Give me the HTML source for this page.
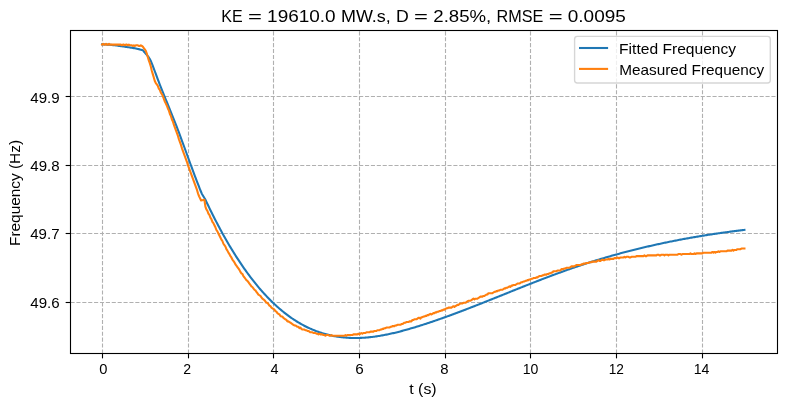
<!DOCTYPE html>
<html lang="en">
<head>
<meta charset="utf-8">
<title>Frequency fit</title>
<style>
html,body{margin:0;padding:0;background:#fff;}
body{width:790px;height:406px;overflow:hidden;}
svg{display:block;will-change:transform;}
text{font-family:"Liberation Sans",sans-serif;fill:#000;}
.tick{font-size:14.1px;}
.lab{font-size:14.2px;}
.ttl{font-size:17.0px;}
.grid line{stroke:#b0b0b0;stroke-width:1.11;stroke-dasharray:4.11 1.78;}
.ticks line{stroke:#000;stroke-width:1.11;}
.curve{fill:none;stroke-width:2.083;stroke-linejoin:round;stroke-linecap:square;}
</style>
</head>
<body>
<svg width="790" height="406" viewBox="0 0 790 406">
<rect x="0" y="0" width="790" height="406" fill="#fff"/>
<g class="grid">
<line x1="102.5" y1="353.5" x2="102.5" y2="30.5"/>
<line x1="188.5" y1="353.5" x2="188.5" y2="30.5"/>
<line x1="273.5" y1="353.5" x2="273.5" y2="30.5"/>
<line x1="359.5" y1="353.5" x2="359.5" y2="30.5"/>
<line x1="445.5" y1="353.5" x2="445.5" y2="30.5"/>
<line x1="530.5" y1="353.5" x2="530.5" y2="30.5"/>
<line x1="616.5" y1="353.5" x2="616.5" y2="30.5"/>
<line x1="702.5" y1="353.5" x2="702.5" y2="30.5"/>
<line x1="70.5" y1="96.5" x2="777.5" y2="96.5"/>
<line x1="70.5" y1="165.5" x2="777.5" y2="165.5"/>
<line x1="70.5" y1="233.5" x2="777.5" y2="233.5"/>
<line x1="70.5" y1="302.5" x2="777.5" y2="302.5"/>
</g>
<path class="curve" stroke="#1f77b4" d="M102.08 44.30 L103.07 44.34 L104.07 44.40 L105.06 44.45 L106.05 44.52 L107.05 44.59 L108.04 44.66 L109.03 44.74 L110.03 44.82 L111.02 44.91 L112.01 45.00 L113.00 45.10 L114.00 45.21 L114.99 45.32 L115.98 45.45 L116.98 45.58 L117.97 45.72 L118.96 45.86 L119.96 46.01 L120.95 46.16 L121.94 46.30 L122.94 46.45 L123.93 46.59 L124.92 46.73 L125.92 46.87 L126.91 47.01 L127.90 47.16 L128.90 47.30 L129.89 47.45 L130.88 47.60 L131.88 47.76 L132.87 47.93 L133.86 48.10 L134.85 48.28 L135.85 48.47 L136.84 48.67 L137.83 48.90 L138.83 49.13 L139.82 49.39 L140.81 49.65 L141.81 49.92 L142.80 50.20 L143.80 51.48 L144.80 52.63 L145.80 53.73 L146.80 54.85 L147.80 56.07 L148.80 57.46 L149.80 59.09 L150.80 61.04 L151.80 63.34 L152.80 65.89 L153.80 68.56 L154.80 71.25 L155.80 73.95 L156.80 76.63 L157.80 79.29 L158.80 81.92 L159.80 84.51 L160.80 87.07 L161.80 89.61 L162.80 92.12 L163.80 94.61 L164.80 97.08 L165.80 99.54 L166.80 101.99 L167.80 104.44 L168.80 106.89 L169.80 109.35 L170.80 111.81 L171.80 114.28 L172.80 116.77 L173.80 119.28 L174.80 121.81 L175.80 124.37 L176.80 126.96 L177.80 129.58 L178.80 132.23 L179.80 134.90 L180.80 137.59 L181.80 140.30 L182.80 143.02 L183.80 145.75 L184.80 148.50 L185.80 151.25 L186.80 154.00 L187.80 156.75 L188.80 159.50 L189.80 162.25 L190.80 164.99 L191.80 167.71 L192.80 170.42 L193.80 173.12 L194.80 175.79 L195.80 178.44 L196.80 181.07 L197.80 183.66 L198.80 186.23 L199.80 188.76 L200.80 191.25 L201.80 193.70 L205.20 199.20 L206.20 201.34 L207.20 203.45 L208.20 205.55 L209.20 207.63 L210.20 209.68 L211.20 211.72 L212.20 213.74 L213.20 215.74 L214.20 217.72 L215.20 219.68 L216.21 221.62 L217.21 223.55 L218.21 225.45 L219.21 227.34 L220.21 229.20 L221.21 231.05 L222.21 232.88 L223.21 234.69 L224.21 236.48 L225.21 238.26 L226.21 240.01 L227.21 241.75 L228.21 243.47 L229.21 245.17 L230.21 246.85 L231.21 248.52 L232.21 250.16 L233.21 251.79 L234.21 253.40 L235.21 254.99 L236.21 256.57 L237.21 258.13 L238.22 259.66 L239.22 261.19 L240.22 262.69 L241.22 264.18 L242.22 265.65 L243.22 267.10 L244.22 268.54 L245.22 269.95 L246.22 271.36 L247.22 272.74 L248.22 274.11 L249.22 275.46 L250.22 276.79 L251.22 278.11 L252.22 279.41 L253.22 280.69 L254.22 281.96 L255.22 283.21 L256.22 284.44 L257.22 285.66 L258.22 286.86 L259.23 288.05 L260.23 289.21 L261.23 290.37 L262.23 291.50 L263.23 292.63 L264.23 293.73 L265.23 294.82 L266.23 295.89 L267.23 296.95 L268.23 297.99 L269.23 299.02 L270.23 300.03 L271.23 301.03 L272.23 302.01 L273.23 302.97 L274.23 303.92 L275.23 304.86 L276.23 305.78 L277.23 306.68 L278.23 307.57 L279.23 308.45 L280.23 309.31 L281.24 310.15 L282.24 310.98 L283.24 311.80 L284.24 312.60 L285.24 313.39 L286.24 314.16 L287.24 314.92 L288.24 315.66 L289.24 316.39 L290.24 317.11 L291.24 317.81 L292.24 318.50 L293.24 319.17 L294.24 319.84 L295.24 320.48 L296.24 321.12 L297.24 321.74 L298.24 322.34 L299.24 322.94 L300.24 323.52 L301.24 324.09 L302.24 324.64 L303.25 325.18 L304.25 325.71 L305.25 326.23 L306.25 326.73 L307.25 327.22 L308.25 327.70 L309.25 328.17 L310.25 328.62 L311.25 329.06 L312.25 329.50 L313.25 329.91 L314.25 330.32 L315.25 330.72 L316.25 331.10 L317.25 331.47 L318.25 331.83 L319.25 332.18 L320.25 332.52 L321.25 332.85 L322.25 333.16 L323.25 333.47 L324.26 333.76 L325.26 334.04 L326.26 334.31 L327.26 334.58 L328.26 334.83 L329.26 335.07 L330.26 335.30 L331.26 335.52 L332.26 335.73 L333.26 335.93 L334.26 336.12 L335.26 336.30 L336.26 336.47 L337.26 336.63 L338.26 336.78 L339.26 336.93 L340.26 337.06 L341.26 337.18 L342.26 337.30 L343.26 337.40 L344.26 337.50 L345.26 337.58 L346.27 337.66 L347.27 337.73 L348.27 337.79 L349.27 337.85 L350.27 337.89 L351.27 337.92 L352.27 337.95 L353.27 337.97 L354.27 337.98 L355.27 337.99 L356.27 337.98 L357.27 337.97 L358.27 337.95 L359.27 337.92 L360.27 337.89 L361.27 337.84 L362.27 337.79 L363.27 337.74 L364.27 337.67 L365.27 337.60 L366.27 337.52 L367.28 337.44 L368.28 337.34 L369.28 337.25 L370.28 337.14 L371.28 337.03 L372.28 336.91 L373.28 336.79 L374.28 336.66 L375.28 336.52 L376.28 336.38 L377.28 336.23 L378.28 336.07 L379.28 335.91 L380.28 335.75 L381.28 335.58 L382.28 335.40 L383.28 335.22 L384.28 335.03 L385.28 334.84 L386.28 334.64 L387.28 334.44 L388.28 334.23 L389.29 334.02 L390.29 333.80 L391.29 333.58 L392.29 333.35 L393.29 333.12 L394.29 332.89 L395.29 332.65 L396.29 332.41 L397.29 332.16 L398.29 331.91 L399.29 331.65 L400.29 331.40 L401.29 331.13 L402.29 330.87 L403.29 330.60 L404.29 330.33 L405.29 330.05 L406.29 329.77 L407.29 329.49 L408.29 329.20 L409.29 328.91 L410.30 328.62 L411.30 328.33 L412.30 328.03 L413.30 327.73 L414.30 327.43 L415.30 327.13 L416.30 326.82 L417.30 326.51 L418.30 326.20 L419.30 325.89 L420.30 325.58 L421.30 325.26 L422.30 324.94 L423.30 324.62 L424.30 324.30 L425.30 323.97 L426.30 323.64 L427.30 323.32 L428.30 322.99 L429.30 322.65 L430.30 322.32 L431.30 321.98 L432.31 321.65 L433.31 321.31 L434.31 320.96 L435.31 320.62 L436.31 320.28 L437.31 319.93 L438.31 319.58 L439.31 319.23 L440.31 318.88 L441.31 318.53 L442.31 318.18 L443.31 317.82 L444.31 317.46 L445.31 317.10 L446.31 316.74 L447.31 316.38 L448.31 316.02 L449.31 315.65 L450.31 315.29 L451.31 314.92 L452.31 314.55 L453.32 314.18 L454.32 313.81 L455.32 313.44 L456.32 313.07 L457.32 312.69 L458.32 312.32 L459.32 311.94 L460.32 311.56 L461.32 311.18 L462.32 310.80 L463.32 310.42 L464.32 310.04 L465.32 309.66 L466.32 309.27 L467.32 308.89 L468.32 308.50 L469.32 308.11 L470.32 307.73 L471.32 307.34 L472.32 306.95 L473.32 306.56 L474.32 306.17 L475.33 305.78 L476.33 305.38 L477.33 304.99 L478.33 304.60 L479.33 304.20 L480.33 303.81 L481.33 303.41 L482.33 303.02 L483.33 302.62 L484.33 302.22 L485.33 301.83 L486.33 301.43 L487.33 301.03 L488.33 300.63 L489.33 300.23 L490.33 299.83 L491.33 299.43 L492.33 299.03 L493.33 298.63 L494.33 298.23 L495.33 297.83 L496.33 297.43 L497.34 297.03 L498.34 296.62 L499.34 296.22 L500.34 295.82 L501.34 295.42 L502.34 295.02 L503.34 294.61 L504.34 294.21 L505.34 293.81 L506.34 293.41 L507.34 293.00 L508.34 292.60 L509.34 292.20 L510.34 291.80 L511.34 291.40 L512.34 290.99 L513.34 290.59 L514.34 290.19 L515.34 289.79 L516.34 289.39 L517.34 288.99 L518.35 288.59 L519.35 288.19 L520.35 287.79 L521.35 287.39 L522.35 286.99 L523.35 286.59 L524.35 286.20 L525.35 285.80 L526.35 285.40 L527.35 285.01 L528.35 284.61 L529.35 284.22 L530.35 283.82 L531.35 283.43 L532.35 283.04 L533.35 282.64 L534.35 282.25 L535.35 281.86 L536.35 281.47 L537.35 281.08 L538.35 280.69 L539.35 280.30 L540.36 279.92 L541.36 279.53 L542.36 279.15 L543.36 278.76 L544.36 278.38 L545.36 278.00 L546.36 277.62 L547.36 277.23 L548.36 276.86 L549.36 276.48 L550.36 276.10 L551.36 275.72 L552.36 275.35 L553.36 274.98 L554.36 274.60 L555.36 274.23 L556.36 273.86 L557.36 273.49 L558.36 273.13 L559.36 272.76 L560.36 272.40 L561.37 272.03 L562.37 271.67 L563.37 271.31 L564.37 270.95 L565.37 270.59 L566.37 270.24 L567.37 269.88 L568.37 269.53 L569.37 269.18 L570.37 268.83 L571.37 268.48 L572.37 268.13 L573.37 267.79 L574.37 267.45 L575.37 267.10 L576.37 266.76 L577.37 266.43 L578.37 266.09 L579.37 265.75 L580.37 265.42 L581.37 265.09 L582.37 264.76 L583.38 264.43 L584.38 264.10 L585.38 263.78 L586.38 263.45 L587.38 263.13 L588.38 262.81 L589.38 262.49 L590.38 262.17 L591.38 261.86 L592.38 261.54 L593.38 261.23 L594.38 260.92 L595.38 260.61 L596.38 260.30 L597.38 260.00 L598.38 259.69 L599.38 259.39 L600.38 259.09 L601.38 258.79 L602.38 258.49 L603.38 258.19 L604.39 257.90 L605.39 257.60 L606.39 257.31 L607.39 257.02 L608.39 256.73 L609.39 256.44 L610.39 256.15 L611.39 255.87 L612.39 255.59 L613.39 255.30 L614.39 255.02 L615.39 254.75 L616.39 254.47 L617.39 254.19 L618.39 253.92 L619.39 253.65 L620.39 253.37 L621.39 253.10 L622.39 252.84 L623.39 252.57 L624.39 252.30 L625.39 252.04 L626.40 251.78 L627.40 251.51 L628.40 251.26 L629.40 251.00 L630.40 250.74 L631.40 250.48 L632.40 250.23 L633.40 249.98 L634.40 249.73 L635.40 249.48 L636.40 249.23 L637.40 248.98 L638.40 248.74 L639.40 248.49 L640.40 248.25 L641.40 248.01 L642.40 247.77 L643.40 247.53 L644.40 247.29 L645.40 247.06 L646.40 246.82 L647.41 246.59 L648.41 246.36 L649.41 246.13 L650.41 245.90 L651.41 245.67 L652.41 245.44 L653.41 245.22 L654.41 245.00 L655.41 244.77 L656.41 244.55 L657.41 244.33 L658.41 244.12 L659.41 243.90 L660.41 243.68 L661.41 243.47 L662.41 243.26 L663.41 243.04 L664.41 242.83 L665.41 242.63 L666.41 242.42 L667.41 242.21 L668.41 242.01 L669.42 241.80 L670.42 241.60 L671.42 241.40 L672.42 241.20 L673.42 241.00 L674.42 240.80 L675.42 240.61 L676.42 240.41 L677.42 240.22 L678.42 240.03 L679.42 239.83 L680.42 239.64 L681.42 239.46 L682.42 239.27 L683.42 239.08 L684.42 238.90 L685.42 238.71 L686.42 238.53 L687.42 238.35 L688.42 238.17 L689.42 237.99 L690.42 237.81 L691.43 237.64 L692.43 237.46 L693.43 237.29 L694.43 237.11 L695.43 236.94 L696.43 236.77 L697.43 236.60 L698.43 236.43 L699.43 236.27 L700.43 236.10 L701.43 235.94 L702.43 235.77 L703.43 235.61 L704.43 235.45 L705.43 235.29 L706.43 235.13 L707.43 234.97 L708.43 234.82 L709.43 234.66 L710.43 234.51 L711.43 234.35 L712.44 234.20 L713.44 234.05 L714.44 233.90 L715.44 233.75 L716.44 233.60 L717.44 233.46 L718.44 233.31 L719.44 233.17 L720.44 233.02 L721.44 232.88 L722.44 232.74 L723.44 232.60 L724.44 232.46 L725.44 232.32 L726.44 232.18 L727.44 232.05 L728.44 231.91 L729.44 231.78 L730.44 231.65 L731.44 231.52 L732.44 231.39 L733.44 231.26 L734.45 231.13 L735.45 231.00 L736.45 230.87 L737.45 230.75 L738.45 230.62 L739.45 230.50 L740.45 230.38 L741.45 230.26 L742.45 230.14 L743.45 230.02 L744.45 229.90"/>
<path class="curve" stroke="#ff7f0e" d="M102.08 44.60 L103.07 43.91 L104.07 44.60 L105.06 44.60 L106.05 43.91 L107.05 44.60 L108.04 44.60 L109.03 43.91 L110.02 44.60 L111.02 44.60 L112.01 44.60 L113.00 44.60 L114.00 44.60 L114.99 44.60 L115.98 44.60 L116.98 44.60 L117.97 44.60 L118.96 44.60 L119.95 44.60 L120.95 44.60 L121.94 45.28 L122.93 44.60 L123.93 44.60 L124.92 45.28 L125.91 44.60 L126.91 44.60 L127.90 45.28 L128.89 44.60 L129.88 45.28 L130.88 45.28 L131.87 45.28 L132.86 45.97 L133.86 45.28 L134.85 45.97 L135.84 45.28 L136.84 45.28 L137.83 45.28 L138.82 45.97 L139.81 45.97 L140.81 45.28 L141.80 45.97 L142.80 46.66 L143.80 48.03 L144.80 49.40 L145.80 50.78 L146.80 53.52 L147.80 56.96 L148.80 60.39 L149.80 63.14 L150.80 66.57 L151.80 70.69 L152.80 74.13 L153.80 77.56 L154.80 80.99 L155.81 83.05 L156.81 84.43 L157.82 85.80 L158.83 88.55 L159.83 89.92 L160.84 92.67 L161.85 94.04 L162.85 96.10 L163.86 98.85 L164.87 101.59 L165.87 103.65 L166.88 105.71 L167.88 108.46 L168.89 110.52 L169.90 113.95 L170.90 116.01 L171.91 119.45 L172.92 121.51 L173.92 124.94 L174.93 127.69 L175.94 130.44 L176.94 133.18 L177.95 135.93 L178.96 139.36 L179.96 142.11 L180.97 144.86 L181.98 148.29 L182.98 151.04 L183.99 153.78 L185.00 156.53 L186.00 159.28 L187.01 162.02 L188.02 165.46 L189.02 168.20 L190.03 170.95 L191.03 173.70 L192.04 176.44 L193.05 179.19 L194.05 181.94 L195.06 184.68 L196.07 187.43 L197.07 190.18 L198.08 193.61 L199.09 196.36 L200.09 198.42 L201.10 200.48 L204.40 199.79 L205.40 206.66 L206.40 209.41 L207.40 210.78 L208.40 213.53 L209.40 214.90 L210.40 217.65 L211.40 219.02 L212.40 221.77 L213.40 223.14 L214.40 225.20 L215.40 227.26 L216.40 230.01 L217.40 231.38 L218.40 233.44 L219.40 235.50 L220.40 237.56 L221.40 239.62 L222.40 240.99 L223.40 243.74 L224.40 245.11 L225.40 246.49 L226.40 249.23 L227.40 250.61 L228.40 252.67 L229.40 254.04 L230.40 256.10 L231.40 257.47 L232.40 259.53 L233.40 260.91 L234.40 262.28 L235.40 264.34 L236.40 265.71 L237.40 267.09 L238.40 268.46 L239.40 269.84 L240.40 271.90 L241.40 273.27 L242.40 273.96 L243.40 276.02 L244.40 277.39 L245.40 278.76 L246.40 280.14 L247.40 280.82 L248.40 282.20 L249.40 283.57 L250.40 284.94 L251.40 286.32 L252.40 287.00 L253.40 288.38 L254.40 289.75 L255.40 290.44 L256.40 291.81 L257.40 293.18 L258.41 294.56 L259.41 295.24 L260.41 295.93 L261.41 297.30 L262.41 298.68 L263.41 299.36 L264.41 300.05 L265.41 301.42 L266.41 302.80 L267.41 302.80 L268.41 304.17 L269.41 305.54 L270.41 306.23 L271.41 307.60 L272.41 308.29 L273.41 308.98 L274.41 309.66 L275.41 311.04 L276.41 311.72 L277.41 313.10 L278.41 313.78 L279.41 314.47 L280.41 315.84 L281.41 316.53 L282.41 316.53 L283.41 317.90 L284.41 318.59 L285.41 319.28 L286.41 319.96 L287.41 321.34 L288.41 321.34 L289.41 322.02 L290.41 322.71 L291.41 323.40 L292.41 324.08 L293.41 324.77 L294.41 325.46 L295.41 325.46 L296.41 326.14 L297.41 326.83 L298.41 326.83 L299.41 328.20 L300.41 327.52 L301.41 328.89 L302.41 329.58 L303.41 329.58 L304.41 329.58 L305.41 330.26 L306.41 330.26 L307.41 330.95 L308.41 330.95 L309.41 331.64 L310.41 332.32 L311.41 332.32 L312.41 332.32 L313.41 333.01 L314.41 333.01 L315.41 333.01 L316.41 333.70 L317.41 333.70 L318.41 334.38 L319.41 333.70 L320.41 334.38 L321.41 334.38 L322.41 334.38 L323.41 335.07 L324.41 335.07 L325.41 335.76 L326.41 335.07 L327.41 335.07 L328.41 335.07 L329.41 335.76 L330.41 335.76 L331.41 335.07 L332.41 335.76 L333.41 335.76 L334.41 335.76 L335.41 335.76 L336.41 335.76 L337.41 335.76 L338.41 335.76 L339.41 335.76 L340.41 335.76 L341.41 335.76 L342.41 335.76 L343.41 335.76 L344.41 335.76 L345.41 335.07 L346.41 335.76 L347.41 335.07 L348.41 335.07 L349.41 335.07 L350.41 335.07 L351.41 335.07 L352.41 335.07 L353.41 334.38 L354.41 334.38 L355.41 334.38 L356.41 334.38 L357.41 334.38 L358.41 333.70 L359.41 334.38 L360.41 333.70 L361.41 333.01 L362.41 333.70 L363.41 333.01 L364.41 333.01 L365.41 333.01 L366.42 332.32 L367.42 332.32 L368.42 332.32 L369.42 332.32 L370.42 331.64 L371.42 331.64 L372.42 331.64 L373.42 331.64 L374.42 330.95 L375.42 330.95 L376.42 330.95 L377.42 330.26 L378.42 330.26 L379.42 330.26 L380.42 329.58 L381.42 329.58 L382.42 328.89 L383.42 328.89 L384.42 328.20 L385.42 328.20 L386.42 327.52 L387.42 327.52 L388.42 327.52 L389.42 327.52 L390.42 326.83 L391.42 326.83 L392.42 326.14 L393.42 326.14 L394.42 326.14 L395.42 325.46 L396.42 325.46 L397.42 324.77 L398.42 324.77 L399.42 324.77 L400.42 324.77 L401.42 324.08 L402.42 324.08 L403.42 323.40 L404.42 322.71 L405.42 322.71 L406.42 322.02 L407.42 322.02 L408.42 322.02 L409.42 321.34 L410.42 321.34 L411.42 321.34 L412.42 319.96 L413.42 319.96 L414.42 319.28 L415.42 319.28 L416.42 319.28 L417.42 318.59 L418.42 317.90 L419.42 317.90 L420.42 318.59 L421.42 317.22 L422.42 317.22 L423.42 316.53 L424.42 316.53 L425.42 315.84 L426.42 315.84 L427.42 315.16 L428.42 315.16 L429.42 314.47 L430.42 313.78 L431.42 314.47 L432.42 313.78 L433.42 313.10 L434.42 313.10 L435.42 312.41 L436.42 312.41 L437.42 311.72 L438.42 311.72 L439.42 311.04 L440.42 311.04 L441.42 310.35 L442.42 310.35 L443.42 309.66 L444.42 309.66 L445.42 308.98 L446.42 308.29 L447.42 308.29 L448.42 307.60 L449.42 307.60 L450.42 307.60 L451.42 307.60 L452.42 306.92 L453.42 306.23 L454.42 306.92 L455.42 306.23 L456.42 305.54 L457.42 304.86 L458.42 304.86 L459.42 304.17 L460.42 303.48 L461.42 303.48 L462.42 303.48 L463.42 302.80 L464.42 302.80 L465.42 302.80 L466.42 302.11 L467.42 301.42 L468.42 300.74 L469.42 300.74 L470.42 300.74 L471.42 300.05 L472.42 299.36 L473.42 298.68 L474.43 299.36 L475.43 298.68 L476.43 298.68 L477.43 298.68 L478.43 297.99 L479.43 297.30 L480.43 296.62 L481.43 296.62 L482.43 296.62 L483.43 295.93 L484.43 295.93 L485.43 295.24 L486.43 294.56 L487.43 294.56 L488.43 293.18 L489.43 293.18 L490.43 293.18 L491.43 293.18 L492.43 293.18 L493.43 292.50 L494.43 291.81 L495.43 291.81 L496.43 291.12 L497.43 291.12 L498.43 290.44 L499.43 290.44 L500.43 289.75 L501.43 289.75 L502.43 289.75 L503.43 289.06 L504.43 288.38 L505.43 288.38 L506.43 287.69 L507.43 287.69 L508.43 287.00 L509.43 286.32 L510.43 287.00 L511.43 285.63 L512.43 285.63 L513.43 284.94 L514.43 284.94 L515.43 284.94 L516.43 284.26 L517.43 283.57 L518.43 283.57 L519.43 283.57 L520.43 282.88 L521.43 282.20 L522.43 282.20 L523.43 281.51 L524.43 281.51 L525.43 280.82 L526.43 280.82 L527.43 280.14 L528.43 280.14 L529.43 279.45 L530.43 279.45 L531.43 278.76 L532.43 278.76 L533.43 278.08 L534.43 278.08 L535.43 278.08 L536.43 277.39 L537.43 277.39 L538.43 276.70 L539.43 276.02 L540.43 276.02 L541.43 276.02 L542.43 275.33 L543.43 275.33 L544.43 274.64 L545.43 274.64 L546.43 274.64 L547.43 273.96 L548.43 273.96 L549.43 273.27 L550.43 273.27 L551.43 272.58 L552.43 272.58 L553.43 271.21 L554.43 271.21 L555.43 271.21 L556.43 271.21 L557.43 270.52 L558.43 270.52 L559.43 270.52 L560.43 270.52 L561.43 269.15 L562.43 269.15 L563.43 269.15 L564.43 268.46 L565.43 268.46 L566.43 267.77 L567.43 267.77 L568.43 267.77 L569.43 267.77 L570.43 267.09 L571.43 266.40 L572.43 266.40 L573.43 266.40 L574.43 266.40 L575.43 265.71 L576.43 265.03 L577.43 265.03 L578.43 265.03 L579.43 265.03 L580.43 265.03 L581.43 264.34 L582.44 264.34 L583.44 263.65 L584.44 263.65 L585.44 263.65 L586.44 262.97 L587.44 262.97 L588.44 262.97 L589.44 262.28 L590.44 262.28 L591.44 262.28 L592.44 261.59 L593.44 261.59 L594.44 261.59 L595.44 261.59 L596.44 261.59 L597.44 260.91 L598.44 260.22 L599.44 260.91 L600.44 260.91 L601.44 260.22 L602.44 259.53 L603.44 260.22 L604.44 260.22 L605.44 259.53 L606.44 259.53 L607.44 259.53 L608.44 258.85 L609.44 259.53 L610.44 258.85 L611.44 258.85 L612.44 258.85 L613.44 258.85 L614.44 258.16 L615.44 258.16 L616.44 258.16 L617.44 257.47 L618.44 258.16 L619.44 258.16 L620.44 257.47 L621.44 257.47 L622.44 257.47 L623.44 257.47 L624.44 256.79 L625.44 257.47 L626.44 256.79 L627.44 256.79 L628.44 256.79 L629.44 257.47 L630.44 257.47 L631.44 256.79 L632.44 256.79 L633.44 256.79 L634.44 256.79 L635.44 256.79 L636.44 256.10 L637.44 256.10 L638.44 256.10 L639.44 256.10 L640.44 256.10 L641.44 256.10 L642.44 256.10 L643.44 256.10 L644.44 255.41 L645.44 256.10 L646.44 256.10 L647.44 255.41 L648.44 255.41 L649.44 255.41 L650.44 255.41 L651.44 255.41 L652.44 255.41 L653.44 255.41 L654.44 255.41 L655.44 255.41 L656.44 255.41 L657.44 254.73 L658.44 254.73 L659.44 255.41 L660.44 255.41 L661.44 254.73 L662.44 254.73 L663.44 254.73 L664.44 255.41 L665.44 254.73 L666.44 254.73 L667.44 254.73 L668.44 255.41 L669.44 254.73 L670.44 254.73 L671.44 254.73 L672.44 254.73 L673.44 254.73 L674.44 254.73 L675.44 254.73 L676.44 254.73 L677.44 254.73 L678.44 254.04 L679.44 254.04 L680.44 254.04 L681.44 254.73 L682.44 254.04 L683.44 254.04 L684.44 254.04 L685.44 254.04 L686.44 254.04 L687.44 254.04 L688.44 254.04 L689.44 254.04 L690.45 253.35 L691.45 254.04 L692.45 254.04 L693.45 254.04 L694.45 253.35 L695.45 254.04 L696.45 253.35 L697.45 253.35 L698.45 253.35 L699.45 253.35 L700.45 253.35 L701.45 253.35 L702.45 253.35 L703.45 252.67 L704.45 252.67 L705.45 252.67 L706.45 252.67 L707.45 252.67 L708.45 252.67 L709.45 252.67 L710.45 252.67 L711.45 252.67 L712.45 251.98 L713.45 252.67 L714.45 251.98 L715.45 252.67 L716.45 251.98 L717.45 251.98 L718.45 251.29 L719.45 251.98 L720.45 251.29 L721.45 251.29 L722.45 251.29 L723.45 251.29 L724.45 251.29 L725.45 251.29 L726.45 251.29 L727.45 250.61 L728.45 250.61 L729.45 250.61 L730.45 250.61 L731.45 250.61 L732.45 249.92 L733.45 250.61 L734.45 249.92 L735.45 249.92 L736.45 249.92 L737.45 249.23 L738.45 249.23 L739.45 249.23 L740.45 249.23 L741.45 248.55 L742.45 248.55 L743.45 248.55 L744.45 248.55"/>
<g class="ticks">
<line x1="102.5" y1="353.5" x2="102.5" y2="358.36"/>
<line x1="188.5" y1="353.5" x2="188.5" y2="358.36"/>
<line x1="273.5" y1="353.5" x2="273.5" y2="358.36"/>
<line x1="359.5" y1="353.5" x2="359.5" y2="358.36"/>
<line x1="445.5" y1="353.5" x2="445.5" y2="358.36"/>
<line x1="530.5" y1="353.5" x2="530.5" y2="358.36"/>
<line x1="616.5" y1="353.5" x2="616.5" y2="358.36"/>
<line x1="702.5" y1="353.5" x2="702.5" y2="358.36"/>
<line x1="70.5" y1="96.5" x2="65.64" y2="96.5"/>
<line x1="70.5" y1="165.5" x2="65.64" y2="165.5"/>
<line x1="70.5" y1="233.5" x2="65.64" y2="233.5"/>
<line x1="70.5" y1="302.5" x2="65.64" y2="302.5"/>
</g>
<rect x="70.5" y="30.5" width="707.0" height="323.0" fill="none" stroke="#000" stroke-width="1.11" stroke-linejoin="miter"/>
<rect x="574.6" y="36.4" width="195.7" height="46.6" rx="2.78" ry="2.78" fill="#fff" fill-opacity="0.8" stroke="#ccc" stroke-opacity="0.8" stroke-width="1.39"/>
<line x1="579.0" y1="48.0" x2="608.1" y2="48.0" stroke="#1f77b4" stroke-width="2.083"/>
<line x1="579.0" y1="68.9" x2="608.1" y2="68.9" stroke="#ff7f0e" stroke-width="2.083"/>
<text class="ttl" y="22.0"><tspan x="221.3" textLength="21.35" lengthAdjust="spacingAndGlyphs">KE</tspan> <tspan x="247.93" textLength="13.9" lengthAdjust="spacingAndGlyphs">=</tspan> <tspan x="267.09" textLength="68.58" lengthAdjust="spacingAndGlyphs">19610.0</tspan> <tspan x="340.94" textLength="49.89" lengthAdjust="spacingAndGlyphs">MW.s,</tspan> <tspan x="396.1" textLength="12.77" lengthAdjust="spacingAndGlyphs">D</tspan> <tspan x="414.14" textLength="13.9" lengthAdjust="spacingAndGlyphs">=</tspan> <tspan x="433.3" textLength="57.95" lengthAdjust="spacingAndGlyphs">2.85%,</tspan> <tspan x="496.54" textLength="46.83" lengthAdjust="spacingAndGlyphs">RMSE</tspan> <tspan x="548.65" textLength="13.9" lengthAdjust="spacingAndGlyphs">=</tspan> <tspan x="567.81" textLength="58.03" lengthAdjust="spacingAndGlyphs">0.0095</tspan></text>
<text class="tick" x="30.27" y="103" textLength="29.35" lengthAdjust="spacingAndGlyphs">49.9</text>
<text class="tick" x="30.27" y="171" textLength="29.32" lengthAdjust="spacingAndGlyphs">49.8</text>
<text class="tick" x="30.27" y="239" textLength="29.26" lengthAdjust="spacingAndGlyphs">49.7</text>
<text class="tick" x="30.27" y="308" textLength="29.37" lengthAdjust="spacingAndGlyphs">49.6</text>
<text class="tick" x="99.22" y="374" textLength="8.19" lengthAdjust="spacingAndGlyphs">0</text>
<text class="tick" x="183.32" y="374" textLength="7.83" lengthAdjust="spacingAndGlyphs">2</text>
<text class="tick" x="270.48" y="374" textLength="8.04" lengthAdjust="spacingAndGlyphs">4</text>
<text class="tick" x="355.15" y="374" textLength="8.48" lengthAdjust="spacingAndGlyphs">6</text>
<text class="tick" x="440.36" y="374" textLength="8.3" lengthAdjust="spacingAndGlyphs">8</text>
<text class="tick" x="522.65" y="374" textLength="15.65" lengthAdjust="spacingAndGlyphs">10</text>
<text class="tick" x="608.74" y="374" textLength="15.24" lengthAdjust="spacingAndGlyphs">12</text>
<text class="tick" x="693.64" y="374" textLength="15.68" lengthAdjust="spacingAndGlyphs">14</text>
<text class="lab" x="409.23" y="394" textLength="27.46" lengthAdjust="spacingAndGlyphs">t (s)</text>
<text class="lab" x="0" y="0" textLength="106.05" lengthAdjust="spacingAndGlyphs" transform="translate(20 246) rotate(-90)">Frequency (Hz)</text>
<text class="lab" x="619.1" y="53.9" textLength="117.01" lengthAdjust="spacingAndGlyphs">Fitted Frequency</text>
<text class="lab" x="619.18" y="74.9" textLength="144.9" lengthAdjust="spacingAndGlyphs">Measured Frequency</text>
</svg>
</body>
</html>
